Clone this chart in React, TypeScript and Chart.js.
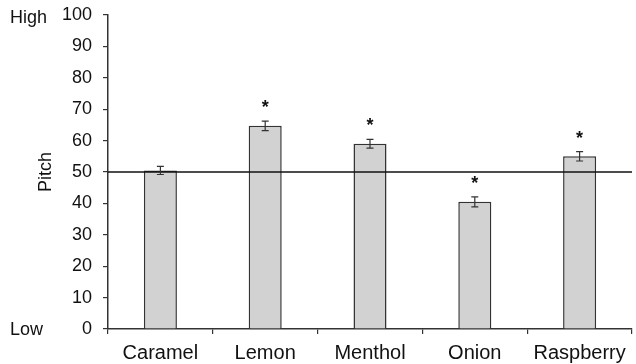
import React, { useEffect, useRef } from "react";
import { Chart, registerables } from "chart.js";

Chart.register(...registerables);

const categories = ["Caramel", "Lemon", "Menthol", "Onion", "Raspberry"];
const pitchValues = [50.5, 64.7, 59.0, 40.5, 55.0];
const pitchErrors = [1.3, 1.5, 1.4, 1.6, 1.5];
const significant = [false, true, true, true, true];
const referenceLevel = 50;
const yTicks = [0, 10, 20, 30, 40, 50, 60, 70, 80, 90, 100];

const FONT = "'Liberation Sans', Arial, sans-serif";

const overlayPlugin = {
  id: "overlay",
  afterDatasetsDraw(chart: any) {
    const { ctx, chartArea, scales } = chart;
    const x = scales.x;
    const y = scales.y;
    ctx.save();
    // reference line
    const yRef = y.getPixelForValue(referenceLevel);
    ctx.strokeStyle = "#111";
    ctx.lineWidth = 1.5;
    ctx.beginPath();
    ctx.moveTo(chartArea.left, yRef);
    ctx.lineTo(chartArea.right, yRef);
    ctx.stroke();
    // error bars + asterisks
    ctx.strokeStyle = "#333";
    ctx.lineWidth = 1.2;
    pitchValues.forEach((v, i) => {
      const cx = x.getPixelForValue(i);
      const top = y.getPixelForValue(v + pitchErrors[i]);
      const bot = y.getPixelForValue(v - pitchErrors[i]);
      ctx.beginPath();
      ctx.moveTo(cx, top);
      ctx.lineTo(cx, bot);
      ctx.moveTo(cx - 3.5, top);
      ctx.lineTo(cx + 3.5, top);
      ctx.moveTo(cx - 3.5, bot);
      ctx.lineTo(cx + 3.5, bot);
      ctx.stroke();
      if (significant[i]) {
        ctx.fillStyle = "#111";
        ctx.font = `bold 18px ${FONT}`;
        ctx.textAlign = "center";
        ctx.textBaseline = "middle";
        ctx.fillText("*", cx, top - 13);
      }
    });
    // High / Low labels
    ctx.fillStyle = "#111";
    ctx.font = `18px ${FONT}`;
    ctx.textAlign = "left";
    ctx.textBaseline = "middle";
    ctx.fillText("High", 10, y.getPixelForValue(100) + 3);
    ctx.fillText("Low", 10, y.getPixelForValue(0) + 1);
    ctx.restore();
  },
};

export default function App() {
  const ref = useRef<HTMLCanvasElement>(null);
  useEffect(() => {
    if (!ref.current) return;
    const chart = new Chart(ref.current, {
      type: "bar",
      data: {
        labels: categories,
        datasets: [
          {
            data: pitchValues,
            backgroundColor: "#d2d2d2",
            borderColor: "#333",
            borderWidth: 1.5,
            categoryPercentage: 1,
            barPercentage: 0.315,
          },
        ],
      },
      options: {
        animation: false,
        responsive: false,
        maintainAspectRatio: false,
        layout: { padding: { left: 0, right: 4, top: 15, bottom: 0 } },
        plugins: { legend: { display: false }, tooltip: { enabled: false } },
        scales: {
          x: {
            afterFit: (s: any) => {
              s.height = 35;
              s.paddingLeft = 0;
              s.paddingRight = 0;
            },
            grid: {
              display: true,
              drawOnChartArea: false,
              drawTicks: true,
              tickLength: 5,
              color: "#333",
              lineWidth: 1.2,
            },
            border: { display: true, color: "#333", width: 1.5 },
            ticks: {
              color: "#111",
              font: { family: FONT, size: 20 },
              padding: 7,
              maxRotation: 0,
            },
          },
          y: {
            min: 0,
            max: 100,
            afterFit: (s: any) => {
              s.width = 108;
              s.paddingTop = 0;
              s.paddingBottom = 0;
            },
            afterBuildTicks: (s: any) => {
              s.ticks = yTicks.map((v) => ({ value: v }));
            },
            grid: {
              display: true,
              drawOnChartArea: false,
              drawTicks: true,
              tickLength: 5,
              color: "#333",
              lineWidth: 1.2,
            },
            border: { display: true, color: "#333", width: 1.5 },
            ticks: {
              color: "#111",
              font: { family: FONT, size: 18 },
              padding: 11,
            },
            title: {
              display: true,
              text: "Pitch",
              color: "#111",
              font: { family: FONT, size: 18 },
              padding: { top: 35, bottom: 0 },
            },
          },
        },
      },
      plugins: [overlayPlugin],
    });
    return () => chart.destroy();
  }, []);
  return (
    <div style={{ position: "fixed", left: 0, top: 0, width: 636, height: 364, background: "#fff" }}>
      <canvas ref={ref} width={636} height={364} />
    </div>
  );
}
